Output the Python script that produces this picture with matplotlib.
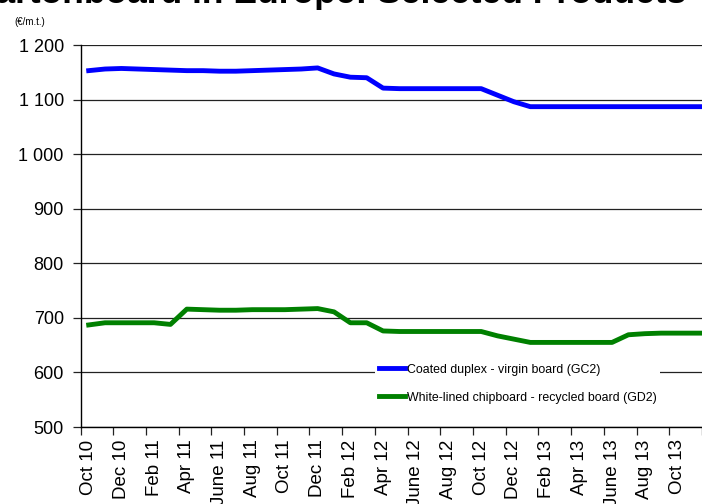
import matplotlib
matplotlib.use("Agg")
import matplotlib.pyplot as plt
from matplotlib.ticker import FixedLocator, NullFormatter

plt.rcParams['font.family'] = ['Liberation Sans', 'DejaVu Sans']

# Monthly series, Oct 2010 - Dec 2013
months = ["Oct 10", "Nov 10", "Dec 10", "Jan 11", "Feb 11", "Mar 11", "Apr 11", "May 11",
          "June 11", "July 11", "Aug 11", "Sep 11", "Oct 11", "Nov 11", "Dec 11", "Jan 12",
          "Feb 12", "Mar 12", "Apr 12", "May 12", "June 12", "July 12", "Aug 12", "Sep 12",
          "Oct 12", "Nov 12", "Dec 12", "Jan 13", "Feb 13", "Mar 13", "Apr 13", "May 13",
          "June 13", "July 13", "Aug 13", "Sep 13", "Oct 13", "Nov 13", "Dec 13"]

gc2 = [1153, 1156, 1157, 1156, 1155, 1154, 1153, 1153, 1152, 1152, 1153, 1154, 1155,
       1156, 1158, 1147, 1141, 1140, 1121, 1120, 1120, 1120, 1120, 1120, 1120, 1108,
       1096, 1087, 1087, 1087, 1087, 1087, 1087, 1087, 1087, 1087, 1087, 1087, 1087]

gd2 = [687, 691, 691, 691, 691, 688, 716, 715, 714, 714, 715, 715, 715, 716, 717, 711,
       691, 691, 676, 675, 675, 675, 675, 675, 675, 667, 661, 655, 655, 655, 655, 655,
       655, 669, 671, 672, 672, 672, 672]

series_names = ["Coated duplex - virgin board (GC2)",
                "White-lined chipboard - recycled board (GD2)"]

y_ticks = [500, 600, 700, 800, 900, 1000, 1100, 1200]
y_labels = ["500", "600", "700", "800", "900", "1 000", "1 100", "1 200"]

W, H = 702, 504
fig = plt.figure(figsize=(W / 100, H / 100), dpi=100)
left, right, top, bottom = 80.5, 702, 45, 427
ax = fig.add_axes([left / W, 1 - bottom / H, (right - left) / W, (bottom - top) / H])

x = [i + 0.5 for i in range(len(months))]
ax.plot(x, gc2, color="#0000FF", lw=3.5, solid_joinstyle="round", label=series_names[0], zorder=3)
ax.plot(x, gd2, color="#008000", lw=3.5, solid_joinstyle="round", label=series_names[1], zorder=3)

ax.set_xlim(0, 38.0)
ax.set_ylim(500, 1200)

# y axis
ax.set_yticks(y_ticks)
ax.set_yticklabels(y_labels, fontsize=13)
ax.yaxis.grid(True, color="#222222", lw=0.9)
ax.set_axisbelow(True)
ax.tick_params(axis="y", direction="out", length=6, width=0.9, color="#222222", pad=6)

# x axis: ticks between categories, labels on every other month
ax.xaxis.set_major_locator(FixedLocator(list(range(0, len(months), 2))))
ax.xaxis.set_major_formatter(NullFormatter())
ax.xaxis.set_minor_locator(FixedLocator([x[i] for i in range(0, len(months), 2)]))
ax.set_xticklabels([months[i] for i in range(0, len(months), 2)], minor=True,
                   rotation=90, fontsize=13.5, va="top", ha="center")
ax.tick_params(axis="x", which="major", direction="out", length=6, width=0.9, color="#222222")
ax.tick_params(axis="x", which="minor", length=0, pad=9)

for side in ("top", "right"):
    ax.spines[side].set_visible(False)
for side in ("left", "bottom"):
    ax.spines[side].set_color("black")
    ax.spines[side].set_linewidth(1.0)

leg = ax.legend(loc="upper left", bbox_to_anchor=(375 / W, 1 - 360 / H),
                bbox_transform=fig.transFigure, frameon=True, fontsize=8.9,
                handlelength=2.1, handletextpad=0.15, labelspacing=1.3,
                borderpad=0.3, borderaxespad=0)
leg.get_frame().set_edgecolor("none")
leg.get_frame().set_facecolor("white")
leg.get_frame().set_alpha(1)

fig.text(14 / W, 1 - 22 / H, "(€/m.t.)", fontsize=7, va="center", ha="left")
fig.text(-30 / W, 1 - 2.5 / H, "Cartonboard in Europe: Selected Products",
         fontsize=25.5, fontweight="bold", va="baseline", ha="left")

fig.savefig("out.png", dpi=100)
